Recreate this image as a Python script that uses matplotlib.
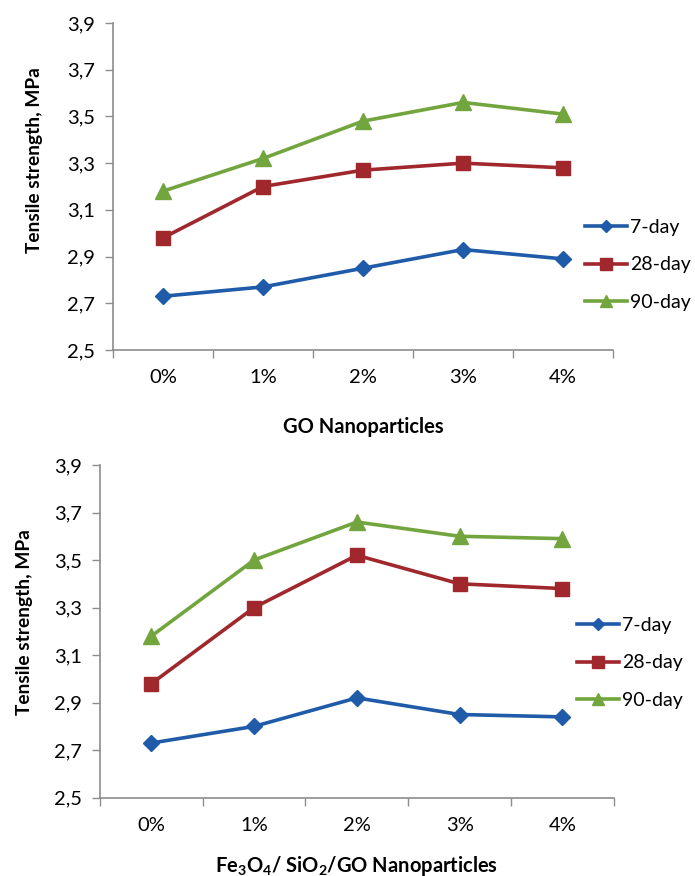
import matplotlib
matplotlib.use("Agg")
import matplotlib.pyplot as plt
from matplotlib.ticker import FixedLocator, FuncFormatter

plt.rcParams['font.family'] = ['Lato', 'DejaVu Sans']

categories = ["0%", "1%", "2%", "3%", "4%"]
series_names = ["7-day", "28-day", "90-day"]

go_7 = [2.73, 2.77, 2.85, 2.93, 2.89]
go_28 = [2.98, 3.20, 3.27, 3.30, 3.28]
go_90 = [3.18, 3.32, 3.48, 3.56, 3.51]

fsg_7 = [2.73, 2.80, 2.92, 2.85, 2.84]
fsg_28 = [2.98, 3.30, 3.52, 3.40, 3.38]
fsg_90 = [3.18, 3.50, 3.66, 3.60, 3.59]

y_ticks = [2.5, 2.7, 2.9, 3.1, 3.3, 3.5, 3.7, 3.9]

colors = ["#1f5ba8", "#a0282c", "#72a53e"]
markers = ["D", "s", "^"]
msizes = [8, 10, 11]

fig = plt.figure(figsize=(6.95, 8.76), dpi=100)
ax1 = fig.add_axes([0.1626, 0.6005, 0.7194, 0.3732])
ax2 = fig.add_axes([0.1439, 0.0894, 0.7391, 0.3798])


def draw(ax, data, xlabel, legend_anchor, xlabelpad, ylabel_pos):
    x = list(range(len(categories)))
    for vals, name, c, m, ms in zip(data, series_names, colors, markers, msizes):
        ax.plot(x, vals, color=c, lw=2.6, marker=m, markersize=ms,
                markerfacecolor=c, markeredgecolor=c, label=name,
                solid_joinstyle='round', clip_on=False)
    ax.set_xlim(-0.5, len(categories) - 0.5)
    ax.set_ylim(2.5, 3.9)
    ax.yaxis.set_major_locator(FixedLocator(y_ticks))
    ax.yaxis.set_major_formatter(FuncFormatter(lambda v, p: f"{v:.1f}".replace(".", ",")))
    ax.set_xticks([i - 0.5 for i in range(len(categories) + 1)])
    ax.set_xticklabels([])
    ax.set_xticks(x, minor=True)
    ax.set_xticklabels(categories, minor=True)
    ax.tick_params(axis='x', which='major', length=6, width=1, color='#8c8c8c')
    ax.tick_params(axis='x', which='minor', length=0, pad=14, labelsize=14.5)
    ax.tick_params(axis='y', length=6, width=1, color='#8c8c8c', labelsize=14.5, pad=7)
    for s in ("top", "right"):
        ax.spines[s].set_visible(False)
    for s in ("left", "bottom"):
        ax.spines[s].set_color('#8c8c8c')
        ax.spines[s].set_linewidth(1.2)
    ax.set_ylabel("Tensile strength, MPa", fontsize=13.8, fontweight='bold')
    ax.yaxis.set_label_coords(*ylabel_pos)
    ax.set_xlabel(xlabel, fontsize=14.5, fontweight='bold', labelpad=xlabelpad)
    ax.legend(loc='center left', bbox_to_anchor=legend_anchor, frameon=False,
              fontsize=14, handlelength=2.15, handletextpad=0.15, borderpad=0,
              labelspacing=1.05, markerscale=0.8, borderaxespad=0)


draw(ax1, [go_7, go_28, go_90], "GO Nanoparticles", (0.944, 0.26), 22, (-0.14, 0.58))
draw(ax2, [fsg_7, fsg_28, fsg_90],
     r"Fe$_\mathregular{3}$O$_\mathregular{4}$/ SiO$_\mathregular{2}$/GO Nanoparticles",
     (0.929, 0.405), 14, (-0.13, 0.528))

fig.savefig("out.png", dpi=100)
